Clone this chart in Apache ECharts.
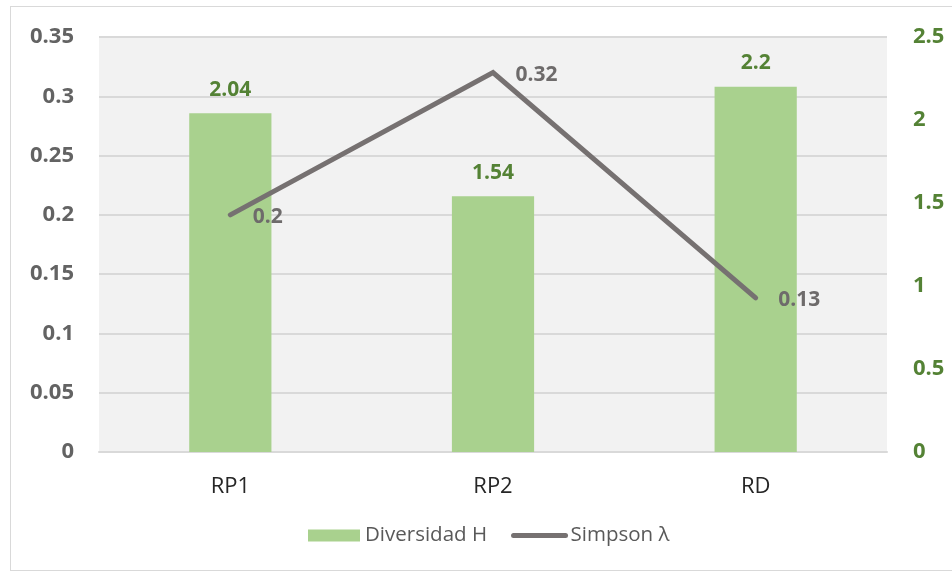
<!DOCTYPE html>
<html>
<head>
<meta charset="utf-8">
<script src="https://cdn.jsdelivr.net/npm/echarts@6/dist/echarts.min.js"></script>
<style>
  html, body { margin: 0; padding: 0; background: #ffffff; }
  #frame { position: absolute; left: 10px; top: 6px; width: 950px; height: 565px; border: 1px solid #d9d9d9; box-sizing: border-box; }
  #chart { position: absolute; left: 0; top: 0; width: 952px; height: 575px; }
</style>
</head>
<body>
<div id="frame"></div>
<div id="chart"></div>
<script>
// Sites and their diversity indices
const categories = ['RP1', 'RP2', 'RD'];
const diversidadH = [2.04, 1.54, 2.2];
const simpson = [0.2, 0.32, 0.13];
const leftTicks = { min: 0, max: 0.35, interval: 0.05 };
const rightTicks = { min: 0, max: 2.5, interval: 0.5 };

const FONT = '"Open Sans", "Noto Sans", sans-serif';
const chart = echarts.init(document.getElementById('chart'), null, { renderer: 'canvas' });

chart.setOption({
  backgroundColor: 'transparent',
  animation: false,
  grid: {
    left: 99, right: 65, top: 37, bottom: 123,
    show: true, backgroundColor: '#f2f2f2', borderWidth: 0
  },
  legend: {
    bottom: 24,
    left: 303,
    itemGap: 24,
    itemWidth: 52,
    itemHeight: 12,
    textStyle: { fontFamily: FONT, fontSize: 20.5, color: '#595959' },
    data: [
      { name: 'Diversidad H', icon: 'rect' },
      // line-only key: hide the marker dot the line legend draws by default
      {
        name: 'Simpson λ',
        itemStyle: { color: 'rgba(0,0,0,0)', borderWidth: 0 },
        lineStyle: { width: 5, color: '#767171', cap: 'round' }
      }
    ]
  },
  xAxis: {
    type: 'category',
    data: categories,
    axisLine: { lineStyle: { color: '#d9d9d9', width: 2 } },
    axisTick: { show: false },
    axisLabel: { fontFamily: FONT, fontSize: 22, color: '#262626', margin: 24 }
  },
  yAxis: [
    {
      type: 'value',
      min: leftTicks.min, max: leftTicks.max, interval: leftTicks.interval,
      position: 'left',
      axisLine: { show: false },
      axisTick: { show: false },
      splitLine: { lineStyle: { color: '#d9d9d9', width: 2 } },
      axisLabel: { fontFamily: FONT, fontSize: 22, fontWeight: 'bold', color: '#636363', margin: 25 }
    },
    {
      type: 'value',
      min: rightTicks.min, max: rightTicks.max, interval: rightTicks.interval,
      position: 'right',
      axisLine: { show: false },
      axisTick: { show: false },
      splitLine: { show: false },
      axisLabel: { fontFamily: FONT, fontSize: 22, fontWeight: 'bold', color: '#548235', margin: 26 }
    }
  ],
  series: [
    {
      name: 'Diversidad H',
      type: 'bar',
      yAxisIndex: 1,
      data: diversidadH,
      barWidth: '31.3%',
      itemStyle: { color: '#a9d18e' },
      label: {
        show: true, position: 'top', distance: 13,
        fontFamily: FONT, fontSize: 21, fontWeight: 'bold', color: '#548235'
      }
    },
    {
      name: 'Simpson λ',
      type: 'line',
      yAxisIndex: 0,
      data: simpson,
      symbol: 'circle',
      symbolSize: 1,
      showSymbol: true,
      lineStyle: { color: '#767171', width: 5, cap: 'round', join: 'miter' },
      itemStyle: { color: '#767171' },
      label: {
        show: true, position: 'right', distance: 22, offset: [0, 2],
        fontFamily: FONT, fontSize: 21, fontWeight: 'bold', color: '#6e6b6b'
      }
    }
  ]
});
</script>
</body>
</html>
